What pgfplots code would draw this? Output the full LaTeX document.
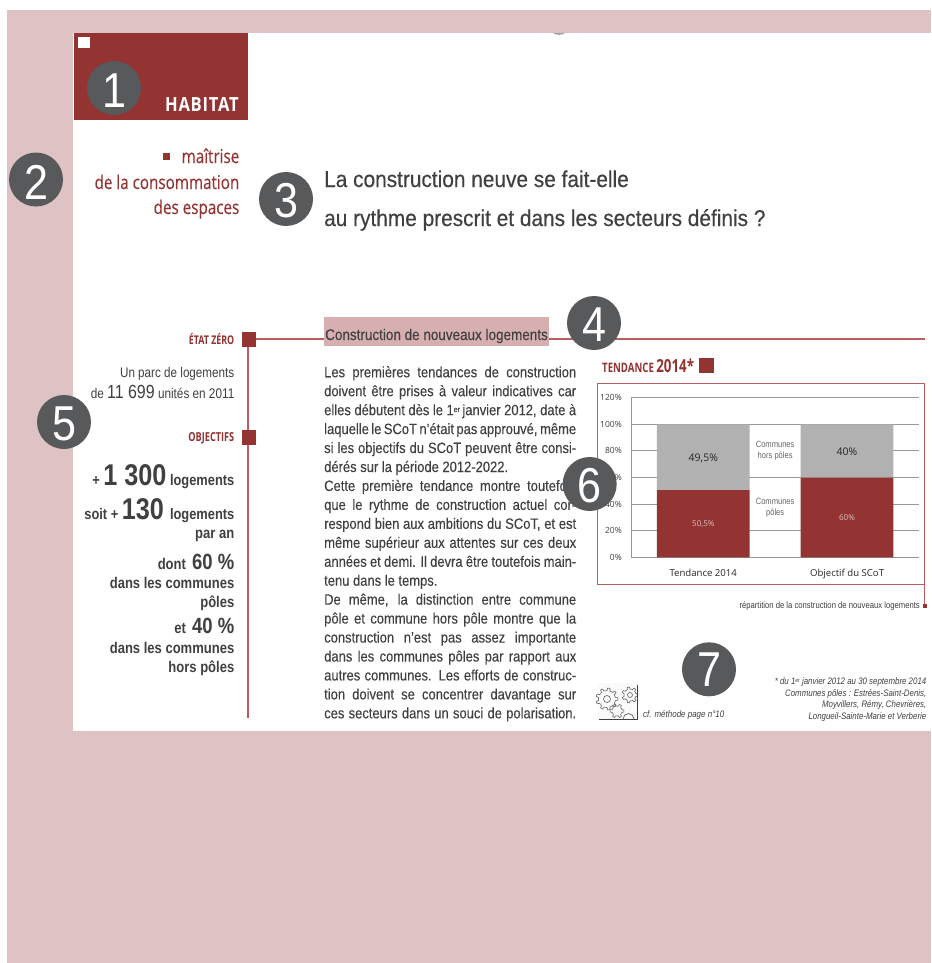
\documentclass[border=0pt]{standalone}
\usepackage{pgfplots}
\pgfplotsset{compat=1.18}
\usepackage{fontspec}
\setmainfont{Liberation Sans}
\newfontfamily\cond{Liberation Sans}[FakeStretch=0.84]
\newfontfamily\bodyf{Liberation Sans}[FakeStretch=0.865,FakeBold=0.15]
\newfontfamily\ttl{Liberation Sans}[FakeStretch=0.91,FakeBold=0.35]
\newfontfamily\sect{Liberation Sans}[FakeStretch=0.87,FakeBold=0.25]
\newfontfamily\myr{Open Sans}[FakeStretch=0.74]
\newfontfamily\sous{Open Sans}[FakeStretch=0.80,FakeBold=0.2]
\newfontfamily\hab{Open Sans}[FakeStretch=0.85,LetterSpace=4]
\newfontfamily\chartf{Open Sans}
\newfontfamily\digit{Liberation Sans}[FakeStretch=0.88]
\definecolor{rouge}{HTML}{933332}
\definecolor{rose}{HTML}{DFC2C3}
\definecolor{hl}{HTML}{D8AFB0}
\definecolor{filet}{HTML}{B9605F}
\definecolor{cercle}{HTML}{58595B}
\definecolor{txt}{HTML}{404042}
\definecolor{grisbar}{HTML}{B1B1B1}
\newcommand{\fs}[1]{\fontsize{#1}{#1}\selectfont}
\newcommand{\jl}[1]{\hbox to 252pt{#1}}
\newcommand{\rt}[4]{\node[anchor=base east,inner sep=0pt,text=#3] at (#1,#2) {#4};}
\newcommand{\lt}[4]{\node[anchor=base west,inner sep=0pt,text=#3] at (#1,#2) {#4};}
\newcommand{\num}[4]{\fill[cercle] (#1,#2) circle (27);
  \node[text=white,inner sep=0pt] at (#1,#4) {\fs{49}\digit #3};}
\newcommand{\gear}[5]{% cx cy rout rin teeth
  \pgfmathsetmacro{\st}{360/#5}
  \pgfmathsetmacro{\q}{\st/4}
  \foreach \i in {1,...,#5}{
    \pgfmathsetmacro{\aa}{\i*\st}
    \draw[black!62,line width=0.6pt,line join=round,shift={(#1,#2)}]
      (\aa-2*\q:#4) -- (\aa-\q:#4) -- (\aa-0.6*\q:#3) -- (\aa+0.6*\q:#3) -- (\aa+\q:#4) -- (\aa+2*\q:#4);
  }}
\begin{document}
\begin{tikzpicture}[x=1pt,y=-1pt]
\fill[white] (0,0) rectangle (931,963);
\fill[rose] (7,10) rectangle (931,963);
\fill[white] (73,33) rectangle (931,731);
\fill[black!35] (553,33) .. controls (556,35.5) and (562,35.5) .. (565,33) -- cycle;
\fill[rouge] (73.5,33) rectangle (248,120.5);
\fill[white] (78,37) rectangle (89.5,48.5);
\rt{239}{111.5}{white}{\fs{19.5}\hab\bfseries HABITAT}
% subtitle
\fill[rouge] (163,153) rectangle (170,160);
\rt{239.5}{163}{rouge}{\fs{19}\sous maîtrise}
\rt{239.5}{189}{rouge}{\fs{19}\sous de la consommation}
\rt{239.5}{214}{rouge}{\fs{19}\sous des espaces}
% title
\lt{324}{187}{txt}{\fs{22.9}\ttl La construction neuve se fait-elle}
\lt{324}{226}{txt}{\fs{22.9}\ttl au rythme prescrit et dans les secteurs définis ?}
% rules
\draw[filet,line width=1.2pt] (248,339) -- (925,339);
\draw[filet,line width=1.2pt] (248,339) -- (248,718);
\fill[rouge] (241.5,332) rectangle (256,346.5);
\fill[rouge] (241.5,430) rectangle (256,444.5);
\fill[hl] (324,317) rectangle (548.5,345.7);
\lt{325}{340}{txt}{\fs{15.5}\sect Construction de nouveaux logements}
% left column
\rt{234.5}{344}{rouge}{\fs{12}\myr\bfseries ÉTAT ZÉRO}
\rt{234.5}{377}{txt}{\fs{13.9}\cond Un parc de logements}
\rt{234.5}{398}{txt}{\fs{14}\cond de {\fs{19}11 699} unités en 2011}
\rt{234.5}{441.7}{rouge}{\fs{12.4}\myr\bfseries OBJECTIFS}
\rt{234.5}{485}{txt}{\cond\bfseries\fs{15.3}+ {\fs{30}1 300} logements}
\rt{234.5}{519}{txt}{\cond\bfseries\fs{15.3}soit + {\fs{30}130} \,logements}
\rt{234.5}{538}{txt}{\cond\bfseries\fs{15.5}par an}
\rt{234.5}{569}{txt}{\cond\bfseries\fs{15.5}dont \,{\fs{22}60 \%}}
\rt{234.5}{588}{txt}{\cond\bfseries\fs{15.5}dans les communes}
\rt{234.5}{607}{txt}{\cond\bfseries\fs{15.5}pôles}
\rt{234.5}{633}{txt}{\cond\bfseries\fs{15.5}et \,{\fs{22}40 \%}}
\rt{234.5}{653}{txt}{\cond\bfseries\fs{15.5}dans les communes}
\rt{234.5}{672}{txt}{\cond\bfseries\fs{15.5}hors pôles}
% body
\node[anchor=north west,inner sep=0pt,text=txt] at (324,366) {\vbox{\fs{15}\bodyf\baselineskip=18.95pt
\jl{Les premières tendances de construction}
\jl{doivent être prises à valeur indicatives car}
\jl{elles débutent dès le 1\raisebox{3pt}{\fs{8}er}\,janvier 2012, date à}
\jl{laquelle le SCoT n’était pas approuvé, même}
\jl{si les objectifs du SCoT peuvent être consi-}
\hbox{dérés sur la période 2012-2022.}
\jl{Cette première tendance montre toutefois}
\jl{que le rythme de construction actuel cor-}
\jl{respond bien aux ambitions du SCoT, et est}
\jl{même supérieur aux attentes sur ces deux}
\jl{années et demi. Il devra être toutefois main-}
\hbox{tenu dans le temps.}
\jl{De même, la distinction entre commune}
\jl{pôle et commune hors pôle montre que la}
\jl{construction n’est pas assez importante}
\jl{dans les communes pôles par rapport aux}
\jl{autres communes. Les efforts de construc-}
\jl{tion doivent se concentrer davantage sur}
\jl{ces secteurs dans un souci de polarisation.}
}};
% chart heading
\node[anchor=base west,inner sep=0pt,text=rouge] at (602,372.5) {\myr\bfseries\fs{13}TENDANCE {\fs{18}2014*}};
\fill[rouge] (699,358) rectangle (713.5,372.5);
\draw[filet,line width=1pt] (597.7,383.7) rectangle (924.3,584);
\draw[filet,line width=1pt] (924.3,584) -- (924.3,606);
\fill[rouge] (923,604) rectangle (926.5,607.5);
\begin{axis}[
  at={(631.3pt,-557.3pt)}, anchor=south west,
  scale only axis, width=287.7pt, height=159.6pt,
  ybar stacked, bar width=92.7pt,
  xmin=-0.5, xmax=1.5, ymin=0, ymax=120,
  xtick={0,1}, xticklabels={Tendance 2014,Objectif du SCoT},
  ytick={0,20,40,60,80,100,120},
  yticklabels={0\%,20\%,40\%,60\%,80\%,100\%,120\%},
  axis x line*=bottom, axis y line*=left,
  axis line style={draw=black!42,-,line width=1pt},
  ymajorgrids, grid style={black!40,line width=1pt},
  major tick length=0pt,
  tick label style={font=\chartf\fs{8.5},text=txt},
  xticklabel style={font=\chartf\fs{9.6},yshift=-8.5pt,text=black!85},
  yticklabel style={xshift=-6pt},
  clip=false,
]
\addplot[fill=rouge,draw=none] coordinates {(0,50.5) (1,60)};
\addplot[fill=grisbar,draw=none] coordinates {(0,49.5) (1,40)};
\node[fill=white,inner sep=0pt,minimum width=51.5pt,minimum height=34pt,align=center,font=\cond\fs{9},text=black!60] at (axis cs:0.5,80) {Communes\\[2pt]hors pôles};
\node[fill=white,inner sep=0pt,minimum width=51.5pt,minimum height=34pt,align=center,font=\cond\fs{9},text=black!60] at (axis cs:0.5,37) {Communes\\[2pt]pôles};
\end{axis}
% labels on the bars
\node[font=\chartf\fs{10.5},text=black!85] at (703.3,458) {49,5\%};
\node[font=\chartf\fs{10.5},text=black!85] at (847,451.5) {40\%};
\node[font=\chartf\fs{8},text=rose] at (703.3,524.5) {50,5\%};
\node[font=\chartf\fs{8},text=rose] at (847,518) {60\%};
\rt{920}{608}{txt}{\fs{9.15}\cond répartition de la construction de nouveaux logements}
% notes
\lt{643}{717}{txt}{\fs{9.5}\cond\itshape cf. méthode page n°10}
\rt{926.5}{684}{txt}{\fs{9.4}\cond\itshape * du 1\raisebox{2pt}{\fs{6}er} janvier 2012 au 30 septembre 2014}
\rt{926.5}{696}{txt}{\fs{9.4}\cond\itshape Communes pôles : Estrées-Saint-Denis,}
\rt{926.5}{707}{txt}{\fs{9.4}\cond\itshape Moyvillers, Rémy, Chevrières,}
\rt{926.5}{719}{txt}{\fs{9.4}\cond\itshape Longueil-Sainte-Marie et Verberie}
% gears icon
\fill[black!2] (598,683) rectangle (637,719);
\gear{607}{699}{11}{8.5}{9}
\draw[black!62,line width=0.6pt] (607,699) circle (3.5);
\gear{630}{695}{8}{6}{7}
\draw[black!62,line width=0.6pt] (630,695) circle (2.5);
\gear{617}{711}{7}{5}{6}
\draw[black!62,line width=0.7pt] (623,719) arc (180:360:5.5);
\draw[txt,line width=1pt] (599,719) -- (637,719) -- (637,685);
% number circles
\num{114}{88}{1}{90.5}
\num{36}{179.5}{2}{182}
\num{286}{199}{3}{201}
\num{594}{323}{4}{325}
\num{64}{422}{5}{424}
\num{589.7}{484}{6}{486}
\num{709}{669.3}{7}{669.5}
\end{tikzpicture}
\end{document}
